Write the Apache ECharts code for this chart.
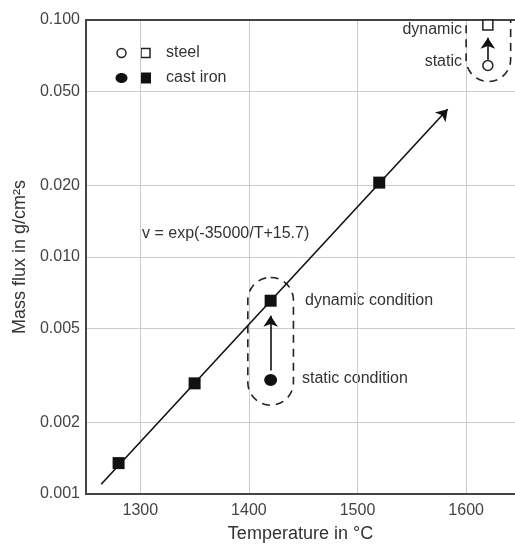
<!DOCTYPE html>
<html>
<head>
<meta charset="utf-8">
<script src="https://cdn.jsdelivr.net/npm/echarts@6/dist/echarts.min.js"></script>
<style>
  html, body { margin: 0; padding: 0; background: #fff; }
  #chart { width: 515px; height: 548px; }
</style>
</head>
<body>
<div id="chart"></div>
<script>
  // cast iron, filled markers
  var castIronDynamic = [[1280, 0.00135], [1350, 0.00293], [1420, 0.00654], [1520, 0.0206]];
  var castIronStatic = [[1420, 0.00303]];
  // steel, open markers
  var steelDynamic = [[1620, 0.0953]];
  var steelStatic = [[1620, 0.0643]];
  // fit v = exp(-35000/T+15.7), drawn as an arrow
  var fitLine = [[1264, 0.0011], [1583, 0.042]];
  // static -> dynamic arrows
  var castIronArrow = [[1420, 0.00332], [1420, 0.00565]];
  var steelArrow = [[1620, 0.0679], [1620, 0.0842]];
  // dashed groups: tMin, tMax, vMin, vMax
  var groups = [[1399, 1441, 0.00237, 0.0082], [1600, 1641, 0.055, 0.14]];
  var xTicks = [1300, 1400, 1500, 1600];
  var yTicks = [0.001, 0.002, 0.005, 0.01, 0.02, 0.05, 0.1];

  var font = '"Liberation Sans", Arial, sans-serif';
  var txt = '#333';

  var myChart = echarts.init(document.getElementById('chart'));

  function label(text, x, y, align) {
    return {
      type: 'text', x: x, y: y,
      style: { text: text, fill: txt, font: '16px ' + font, align: align || 'left', verticalAlign: 'middle' }
    };
  }

  var option = {
    animation: false,
    backgroundColor: '#fff',
    grid: { left: 86, right: 0, top: 20, bottom: 52 },
    xAxis: [
      {
        type: 'value', min: 1250, max: 1645,
        name: 'Temperature in °C', nameLocation: 'middle', nameGap: 31,
        nameTextStyle: { fontSize: 18, color: txt, fontFamily: font },
        axisLine: { lineStyle: { color: '#444', width: 2 } },
        axisTick: { show: false, customValues: xTicks },
        axisLabel: {
          customValues: xTicks, fontSize: 16, color: '#444', fontFamily: font, margin: 9,
          formatter: function (v) { return String(v); }
        },
        splitLine: { show: true, lineStyle: { color: '#ccc', width: 1 } }
      },
      {
        type: 'value', min: 1250, max: 1645, position: 'top',
        axisLine: { show: true, onZero: false, lineStyle: { color: '#444', width: 2 } },
        axisTick: { show: false }, axisLabel: { show: false }, splitLine: { show: false }
      }
    ],
    yAxis: {
      type: 'log', logBase: 10, min: 0.001, max: 0.1,
      name: 'Mass flux in g/cm²s', nameLocation: 'middle', nameGap: 56,
      nameTextStyle: { fontSize: 18, color: txt, fontFamily: font },
      axisLine: { show: true, lineStyle: { color: '#444', width: 2 } },
      axisTick: { show: false, customValues: yTicks },
      axisLabel: {
        customValues: yTicks, fontSize: 16, color: '#444', fontFamily: font, margin: 6,
        formatter: function (v) { return Number(v).toFixed(3); }
      },
      splitLine: { show: true, lineStyle: { color: '#ccc', width: 1 } }
    },
    series: [
      {
        type: 'custom', clip: true, silent: true,
        data: groups,
        encode: { x: [0, 1], y: [2, 3] },
        renderItem: function (params, api) {
          var p1 = api.coord([api.value(0), api.value(3)]);
          var p2 = api.coord([api.value(1), api.value(2)]);
          var w = p2[0] - p1[0], h = p2[1] - p1[1];
          return {
            type: 'rect',
            shape: { x: p1[0], y: p1[1], width: w, height: h, r: w / 2 },
            style: { fill: null, stroke: '#222', lineWidth: 1.6, lineDash: [8, 6] }
          };
        }
      },
      {
        type: 'lines', coordinateSystem: 'cartesian2d', silent: true,
        symbol: ['none', 'arrow'], symbolSize: 11,
        lineStyle: { color: '#111', width: 1.6, opacity: 1 },
        data: [{ coords: fitLine }, { coords: castIronArrow }, { coords: steelArrow }]
      },
      {
        name: 'cast iron dynamic', type: 'scatter', symbol: 'rect', symbolSize: 12,
        itemStyle: { color: '#111', opacity: 1 }, data: castIronDynamic
      },
      {
        name: 'cast iron static', type: 'scatter', symbol: 'circle', symbolSize: [13, 12],
        itemStyle: { color: '#111', opacity: 1 }, data: castIronStatic
      },
      {
        name: 'steel dynamic', type: 'scatter', symbol: 'rect', symbolSize: 10,
        itemStyle: { color: '#fff', borderColor: '#222', borderWidth: 1.5, opacity: 1 }, data: steelDynamic
      },
      {
        name: 'steel static', type: 'scatter', symbol: 'circle', symbolSize: 10,
        itemStyle: { color: '#fff', borderColor: '#222', borderWidth: 1.5, opacity: 1 }, data: steelStatic
      }
    ],
    graphic: [
      // legend
      { type: 'circle', shape: { cx: 121.5, cy: 53, r: 4.5 }, style: { fill: '#fff', stroke: '#222', lineWidth: 1.5 } },
      { type: 'rect', shape: { x: 141, y: 48.5, width: 9, height: 9 }, style: { fill: '#fff', stroke: '#222', lineWidth: 1.5 } },
      label('steel', 166, 53),
      { type: 'ellipse', shape: { cx: 121.5, cy: 78, rx: 6, ry: 5 }, style: { fill: '#111' } },
      { type: 'rect', shape: { x: 140, y: 72.5, width: 11, height: 11 }, style: { fill: '#111' } },
      label('cast iron', 166, 78),
      // annotations
      label('v = exp(-35000/T+15.7)', 142, 234),
      label('dynamic condition', 305, 301),
      label('static condition', 302, 379),
      label('dynamic', 462, 30, 'right'),
      label('static', 462, 62, 'right')
    ]
  };

  myChart.setOption(option);
</script>
</body>
</html>
